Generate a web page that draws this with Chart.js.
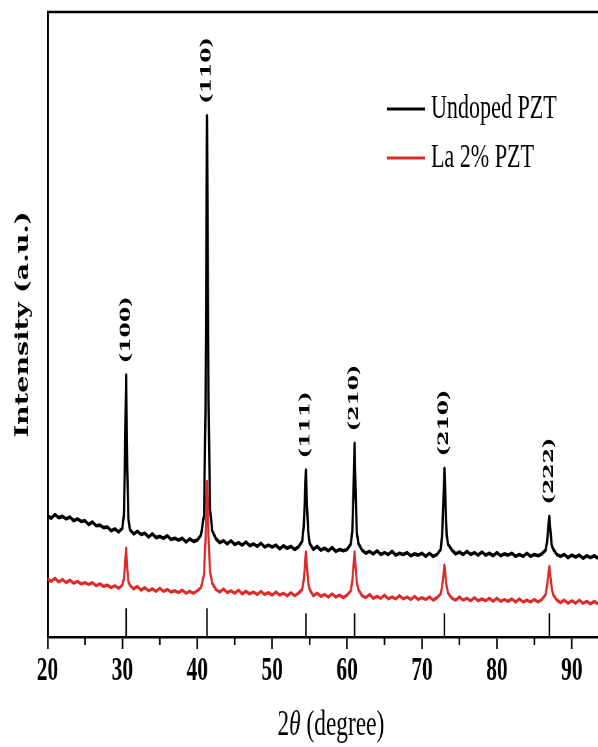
<!DOCTYPE html>
<html><head><meta charset="utf-8">
<script src="https://cdn.jsdelivr.net/npm/chart.js@4.4.1/dist/chart.umd.min.js"></script>
<style>
html,body{margin:0;padding:0;background:#fff;overflow:hidden}
#wrap{width:598px;height:747px;overflow:hidden;position:relative;background:#fff}
#c{position:absolute;left:0;top:0;transform:scaleX(0.65);transform-origin:0 0}
</style></head><body>
<div id="wrap"><canvas id="c" width="920" height="747"></canvas></div>
<script>
// 2θ sample positions (degrees)
const twoTheta = [
  20.0,20.5,21.0,21.5,22.0,22.5,23.0,23.5,24.0,24.5,25.0,25.5,26.0,26.5,27.0,27.5,28.0,28.5,29.0,29.5,30.0,
  30.2,30.35,30.5,30.65,30.8,
  31.0,31.5,32.0,32.5,33.0,33.5,34.0,34.5,35.0,35.5,36.0,36.5,37.0,37.5,38.0,38.5,39.0,39.5,40.0,40.5,
  40.9,41.1,41.3,41.5,41.7,
  42.0,42.5,43.0,43.5,44.0,44.5,45.0,45.5,46.0,46.5,47.0,47.5,48.0,48.5,49.0,49.5,50.0,50.5,51.0,51.5,52.0,52.5,53.0,53.5,54.0,
  54.2,54.35,54.5,54.65,54.8,
  55.0,55.5,56.0,56.5,57.0,57.5,58.0,58.5,59.0,59.5,60.0,60.5,
  60.7,60.85,61.0,61.15,61.3,
  61.5,62.0,62.5,63.0,63.5,64.0,64.5,65.0,65.5,66.0,66.5,67.0,67.5,68.0,68.5,69.0,69.5,70.0,70.5,71.0,71.5,72.0,72.5,
  72.7,72.85,73.0,73.15,73.3,
  73.5,74.0,74.5,75.0,75.5,76.0,76.5,77.0,77.5,78.0,78.5,79.0,79.5,80.0,80.5,81.0,81.5,82.0,82.5,83.0,83.5,84.0,84.5,85.0,85.5,86.0,86.5,
  86.7,86.85,87.0,87.15,87.3,
  87.5,88.0,88.5,89.0,89.5,90.0,90.5,91.0,91.5,92.0,92.5,93.0,93.5
];
// Undoped PZT intensity (a.u.)
const undopedPZT = [
  19.4,19.0,19.6,19.1,19.3,18.9,19.2,18.6,18.9,18.5,18.6,18.0,18.4,17.8,17.9,17.5,17.6,17.0,17.3,16.8,17.4,
  19.5,28.0,41.9,27.0,19.0,
  17.2,16.5,16.9,16.4,16.6,16.0,16.5,15.9,16.1,15.8,16.2,15.6,15.8,15.5,15.8,15.2,15.7,15.3,15.5,16.3,
  19.5,36.0,83.4,38.0,20.5,
  17.0,15.7,15.1,15.4,14.9,15.4,14.8,15.1,14.7,15.2,14.6,14.9,14.5,15.0,14.4,14.7,14.4,14.7,14.1,14.6,14.2,14.5,14.0,14.4,15.3,
  17.5,21.5,26.7,21.0,17.0,
  15.0,14.0,14.5,13.9,14.2,13.8,14.3,13.7,14.0,13.8,14.0,14.9,
  17.0,23.0,31.0,22.5,16.8,
  15.0,13.9,13.4,13.7,13.3,13.8,13.2,13.5,13.2,13.7,13.1,13.4,13.2,13.5,13.0,13.3,13.1,13.4,12.9,13.4,12.9,13.2,14.0,
  16.5,21.5,27.0,21.0,16.2,
  14.8,13.9,13.3,13.6,13.2,13.7,13.2,13.5,13.1,13.6,13.1,13.4,13.0,13.5,13.0,13.3,13.1,13.4,12.9,13.2,12.9,13.4,12.9,13.2,13.0,13.3,13.9,
  15.2,17.5,19.3,17.0,14.8,
  14.1,13.2,12.9,13.2,12.7,13.1,12.8,13.1,12.6,13.0,12.7,13.0,12.6
];
// La 2% PZT intensity (a.u.)
const la2PZT = [
  9.3,8.9,9.4,8.8,9.2,8.7,9.1,8.6,8.9,8.5,8.7,8.4,8.7,8.2,8.5,8.1,8.3,7.9,8.2,7.8,8.3,
  9.3,11.5,14.2,11.0,8.9,
  8.3,7.7,8.1,7.5,7.9,7.4,7.7,7.3,7.8,7.3,7.6,7.2,7.4,7.1,7.5,7.0,7.3,7.0,7.4,7.9,
  10.0,15.5,24.9,16.0,10.5,
  8.6,7.6,7.2,7.7,7.1,7.4,7.0,7.5,6.9,7.3,6.9,7.2,6.8,7.3,6.8,7.1,6.7,7.2,6.7,7.0,6.6,7.1,6.6,7.0,7.6,
  9.0,11.0,13.6,11.2,8.8,
  7.6,6.6,7.0,6.5,6.8,6.4,6.9,6.4,6.7,6.3,6.7,7.4,
  9.0,11.2,13.6,11.0,8.8,
  7.6,6.6,6.3,6.8,6.2,6.5,6.2,6.7,6.1,6.4,6.1,6.6,6.1,6.4,6.0,6.5,6.0,6.3,6.0,6.4,5.9,6.3,6.9,
  8.2,9.8,11.5,9.6,8.0,
  7.0,6.2,5.9,6.4,5.9,6.2,5.8,6.3,5.8,6.1,5.8,6.2,5.7,6.2,5.7,6.0,5.7,6.1,5.6,6.1,5.6,5.9,5.6,6.0,5.6,6.0,6.8,
  8.2,9.8,11.3,9.6,8.0,
  6.8,5.9,5.5,5.9,5.4,5.8,5.4,5.9,5.4,5.7,5.3,5.7,5.3
];
const seriesNames = ['Undoped PZT', 'La 2% PZT'];
const peakPositions = [30.5, 41.3, 54.5, 61.0, 73.0, 87.0];
const peakLabels = ['(100)', '(110)', '(111)', '(210)', '(210)', '(222)'];
const refStickHeights = [4.6, 4.6, 3.8, 3.8, 3.8, 3.8];
const xTickValues = [20, 30, 40, 50, 60, 70, 80, 90];
const xMinorTicks = [25, 35, 45, 55, 65, 75, 85];

const BLACK = '#000000';
const RED = '#dd2a2a';

const stickData = [];
peakPositions.forEach((p, i) => {
  stickData.push({x: p, y: 0}, {x: p, y: refStickHeights[i]}, {x: p, y: null});
});

const framePlugin = {
  id: 'frame',
  afterDraw(chart) {
    const {ctx, chartArea: a, scales: {x}} = chart;
    ctx.save();
    ctx.strokeStyle = '#000';
    ctx.lineWidth = 2.5;
    ctx.beginPath();
    ctx.moveTo(a.left - 1, a.top);
    ctx.lineTo(a.right, a.top);
    ctx.stroke();
    // minor ticks
    ctx.lineWidth = 2.5;
    xMinorTicks.forEach(v => {
      const px = x.getPixelForValue(v);
      ctx.beginPath();
      ctx.moveTo(px, a.bottom);
      ctx.lineTo(px, a.bottom + 8);
      ctx.stroke();
    });
    // peak labels
    ctx.fillStyle = '#000';
    ctx.font = 'bold 22px "DejaVu Serif"';
    ctx.textAlign = 'left';
    ctx.textBaseline = 'middle';
    const y = chart.scales.y;
    peakPositions.forEach((p, i) => {
      const idx = twoTheta.indexOf(p);
      const top = undopedPZT[idx];
      const px = x.getPixelForValue(p);
      const py = y.getPixelForValue(top) - 12;
      ctx.save();
      ctx.translate(px, py);
      ctx.rotate(-Math.PI / 2);
      ctx.fillText(peakLabels[i], 0, 0);
      ctx.restore();
    });
    // x title: 2θ (degree) with italic θ
    const cx = 509, by = 735;
    const f1 = '36px "Liberation Serif"', f2 = 'italic 36px "Liberation Serif"';
    ctx.textBaseline = 'alphabetic';
    ctx.font = f1; const w1 = ctx.measureText('2').width; const w3 = ctx.measureText(' (degree)').width;
    ctx.font = f2; const w2 = ctx.measureText('θ').width;
    let sx = cx - (w1 + w2 + w3) / 2;
    ctx.font = f1; ctx.fillText('2', sx, by); sx += w1;
    ctx.font = f2; ctx.fillText('θ', sx, by); sx += w2;
    ctx.font = f1; ctx.fillText(' (degree)', sx, by);
    // legend
    const rows = [109, 158];
    const colors = [BLACK, RED];
    ctx.font = '34px "Liberation Serif"';
    ctx.textBaseline = 'middle';
    seriesNames.forEach((n, i) => {
      ctx.strokeStyle = colors[i];
      ctx.lineWidth = 3;
      ctx.beginPath();
      ctx.moveTo(595, rows[i]);
      ctx.lineTo(654, rows[i]);
      ctx.stroke();
      ctx.fillStyle = '#000';
      ctx.fillText(n, 663, rows[i]);
    });
    ctx.restore();
  }
};

new Chart(document.getElementById('c'), {
  type: 'line',
  data: {
    datasets: [
      {label: seriesNames[1], data: twoTheta.map((t, i) => ({x: t, y: la2PZT[i]})), borderColor: RED, borderWidth: 3.4, borderJoinStyle: 'round', pointRadius: 0, tension: 0, order: 0},
      {label: seriesNames[0], data: twoTheta.map((t, i) => ({x: t, y: undopedPZT[i]})), borderColor: BLACK, borderWidth: 3.6, borderJoinStyle: 'round', pointRadius: 0, tension: 0, order: 1},
      {label: 'ref', data: stickData, borderColor: '#000', borderWidth: 2.3, pointRadius: 0, spanGaps: false, order: 2}
    ]
  },
  options: {
    responsive: false,
    animation: false,
    devicePixelRatio: 1,
    layout: {padding: {left: 0, right: 0, top: 12, bottom: 0}},
    plugins: {legend: {display: false}, tooltip: {enabled: false}},
    scales: {
      x: {
        type: 'linear', min: 20, max: 93.5,
        afterBuildTicks: s => { s.ticks = xTickValues.map(v => ({value: v})); },
        ticks: {autoSkip: false, maxRotation: 0, padding: 3, color: '#000', font: {family: 'Liberation Serif', size: 33, weight: 'bold'}},
        grid: {display: true, drawOnChartArea: false, drawTicks: true, tickLength: 12, tickWidth: 2.5, tickColor: '#000', color: '#000'},
        border: {display: true, width: 2.5, color: '#000'},
        afterFit: s => { s.height = 110; }
      },
      y: {
        min: 0, max: 100,
        ticks: {display: false},
        grid: {display: false},
        border: {display: true, width: 3, color: '#000'},
        title: {display: true, text: 'Intensity (a.u.)', color: '#000', font: {family: 'DejaVu Serif', size: 27, weight: 'bold'}, padding: {top: 20, bottom: 0}},
        afterFit: s => { s.width = 73; }
      }
    }
  },
  plugins: [framePlugin]
});
</script>
</body></html>
